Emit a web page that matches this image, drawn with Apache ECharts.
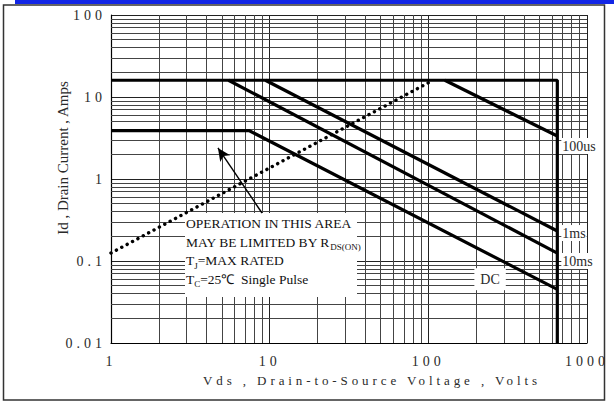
<!DOCTYPE html>
<html>
<head>
<meta charset="utf-8">
<script src="https://cdn.jsdelivr.net/npm/echarts@6/dist/echarts.min.js"></script>
<style>
html,body{margin:0;padding:0;background:#fff;}
#chart{width:614px;height:412px;}
</style>
</head>
<body>
<div id="chart"></div>
<script>
// ---- axis ranges and tick labels ----
const xRange = [1, 1000];
const yRange = [0.01, 100];
const xTickLabels = ['1', '10', '100', '1000'];
const yTickLabels = ['0.01', '0.1', '1', '10', '100'];
const xMinorGrid = [2,3,4,5,6,7,8,9,20,30,40,50,60,70,80,90,200,300,400,500,600,700,800,900];
const yMinorGrid = [0.02,0.03,0.04,0.05,0.06,0.07,0.08,0.09,0.2,0.3,0.4,0.5,0.6,0.7,0.8,0.9,2,3,4,5,6,7,8,9,20,30,40,50,60,70,80,90];

// ---- SOA curves [Vds, Id] ----
const limitLine = [[1, 16], [650, 16], [650, 0.01]];
const line100us = [[127, 16], [650, 3.34]];
const line1ms = [[9.4, 16], [650, 0.232]];
const line10ms = [[5.5, 16], [650, 0.125]];
const lineDC = [[1, 3.9], [7.4, 3.9], [650, 0.045]];
const rdsLine = [[1, 0.125], [107, 16]];

// ---- annotations (data coords) ----
const dcLabelPoint = [245, 0.06];
const arrowFrom = [8.95, 0.385];
const arrowTo = [4.72, 2.39];

const xTitle = 'Vds , Drain-to-Source Voltage , Volts';
const yTitle = 'Id , Drain Current , Amps';
const serif = "'Liberation Serif', 'Times New Roman', serif";
const txtColor = '#2a2a2a';

const chart = echarts.init(document.getElementById('chart'), null, {renderer: 'svg'});

const thick = {color: '#000', width: 3.2};
function curve(name, data, label, offset) {
  const s = {
    name, type: 'line', data, showSymbol: false, symbol: 'none', z: 5,
    lineStyle: Object.assign({}, thick), silent: true, animation: false
  };
  if (label) {
    s.endLabel = {
      show: true, formatter: label, distance: 4, offset: offset,
      fontFamily: serif, fontSize: 14, color: txtColor,
      backgroundColor: '#fff', padding: [1, 1]
    };
  }
  return s;
}

const gridMark = [];
xMinorGrid.forEach(v => gridMark.push({xAxis: v}));
yMinorGrid.forEach(v => gridMark.push({yAxis: v}));

const option = {
  animation: false,
  backgroundColor: '#fff',
  grid: {left: 111, right: 27, top: 15, bottom: 69, containLabel: false},
  xAxis: {
    type: 'log', logBase: 10, min: xRange[0], max: xRange[1],
    name: xTitle, nameLocation: 'middle', nameGap: 31,
    nameTextStyle: {fontFamily: serif, fontSize: 13, color: txtColor, padding: [0, 0, 0, 46]},
    axisLine: {show: true, lineStyle: {color: '#000', width: 1.2}},
    axisTick: {show: false},
    axisLabel: {
      margin: 11, fontFamily: serif, fontSize: 14, color: txtColor,
      formatter: (v, i) => xTickLabels[i] !== undefined ? xTickLabels[i] : ''
    },
    splitLine: {show: true, lineStyle: {color: '#222', width: 1}}
  },
  yAxis: {
    type: 'log', logBase: 10, min: yRange[0], max: yRange[1],
    axisLine: {show: true, lineStyle: {color: '#000', width: 1.2}},
    axisTick: {show: false},
    axisLabel: {
      margin: 5, fontFamily: serif, fontSize: 14, color: txtColor,
      formatter: (v, i) => yTickLabels[i] !== undefined ? yTickLabels[i] : ''
    },
    splitLine: {show: true, lineStyle: {color: '#222', width: 1}}
  },
  series: [
    {
      name: 'grid', type: 'line', data: [], z: 1, silent: true,
      markLine: {
        z: 1, silent: true, symbol: ['none', 'none'], label: {show: false},
        lineStyle: {color: '#444', width: 1, type: 'solid'},
        emphasis: {disabled: true},
        data: gridMark
      }
    },
    curve('limit', limitLine),
    curve('100us', line100us, '100us', [0, 10]),
    curve('1ms', line1ms, '1ms', [0, 2]),
    curve('10ms', line10ms, '10ms', [0, 8]),
    Object.assign(curve('DC', lineDC), {
      markPoint: {
        z: 6, silent: true, symbol: 'rect', symbolSize: 0,
        label: {show: true, formatter: 'DC', fontFamily: serif, fontSize: 14, color: txtColor,
          backgroundColor: '#fff', padding: [4, 6]},
        data: [{coord: dcLabelPoint}]
      },
      markLine: {
        z: 6, silent: true, symbol: ['none', 'arrow'], symbolSize: [9, 13],
        label: {show: false},
        lineStyle: {color: '#000', width: 1.4, type: 'solid'},
        emphasis: {disabled: true},
        data: [[{coord: arrowFrom}, {coord: arrowTo}]]
      }
    }),
    {
      name: 'Rds(on) limit', type: 'line', data: rdsLine, showSymbol: false, symbol: 'none', z: 4,
      silent: true,
      lineStyle: {color: '#000', width: 3.4, type: [0.1, 6], cap: 'round'}
    }
  ],
  graphic: [
    {type: 'rect', z: 0, shape: {x: 3.5, y: 5, width: 601, height: 395},
      style: {fill: 'none', stroke: '#333', lineWidth: 1.5}, silent: true},
    {type: 'rect', z: 10, shape: {x: 15, y: 0, width: 599, height: 4},
      style: {fill: '#1226e6'}, silent: true},
    {type: 'text', z: 10, x: 63, y: 158, rotation: Math.PI / 2, silent: true,
      style: {text: yTitle, fontFamily: serif, fontSize: 15, fill: txtColor,
        align: 'center', verticalAlign: 'middle'}},
    {type: 'rect', z: 3, shape: {x: 185, y: 213, width: 172, height: 84},
      style: {fill: '#fff'}, silent: true},
    {type: 'text', z: 4, x: 186, y: 214, silent: true,
      style: {
        text: 'OPERATION IN THIS AREA\nMAY BE LIMITED BY R{s|DS(ON)}\nT{s|J}=MAX RATED\nT{s|C}=25℃  Single Pulse',
        fontFamily: serif, fontSize: 13.5, fill: '#111', lineHeight: 18.7,
        rich: {s: {fontFamily: serif, fontSize: 9, fill: '#111', verticalAlign: 'bottom', lineHeight: 18.7, padding: [6, 0, 0, 0]}}
      }}
  ]
};
chart.setOption(option);

// letter-spaced axis texts, as in the reference
const spaced = {};
xTickLabels.concat(yTickLabels).forEach(t => spaced[t] = '4px');
spaced[xTitle] = '3.9px';
function applySpacing() {
  document.querySelectorAll('#chart svg text').forEach(t => {
    const s = t.textContent;
    if (spaced[s]) t.setAttribute('letter-spacing', spaced[s]);
  });
}
chart.on('finished', applySpacing);
applySpacing();
</script>
</body>
</html>
